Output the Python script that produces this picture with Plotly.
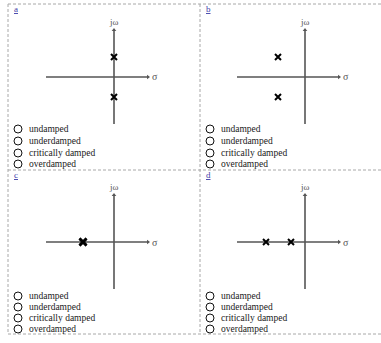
import plotly.graph_objects as go

W, H = 381, 343

# s-plane poles for each panel (real part, imaginary part)
poles_a_re = [0.0, 0.0]
poles_a_im = [1.0, -1.0]
poles_b_re = [-1.35, -1.35]
poles_b_im = [1.0, -1.0]
poles_c_re = [-1.55, -1.55]
poles_c_im = [0.0, 0.0]
poles_d_re = [-1.95, -0.7]
poles_d_im = [0.0, 0.0]

panel_labels = ["a", "b", "c", "d"]
choices = ["undamped", "underdamped", "critically damped", "overdamped"]

SIGMA_RANGE = [-3.4, 1.7]
JW_RANGE = [-2.35, 2.35]

AXIS_GREY = "#555555"
BORDER_GREY = "#a8a8a8"
SERIF = "Liberation Serif"


def px(x):
    return x / W


def py(y):
    return 1 - y / H


fig = go.Figure()

# pixel boxes of each s-plane (left, right, top, bottom)
boxes = [(46, 148, 30, 124), (237, 339, 30, 124), (46, 148, 195, 289), (237, 339, 195, 289)]
poles = [
    (poles_a_re, poles_a_im),
    (poles_b_re, poles_b_im),
    (poles_c_re, poles_c_im),
    (poles_d_re, poles_d_im),
]

layout_axes = {}
for i, ((l, r, t, b), (re, im)) in enumerate(zip(boxes, poles), start=1):
    xa = f"x{i}" if i > 1 else "x"
    ya = f"y{i}" if i > 1 else "y"
    xkey = f"xaxis{i}" if i > 1 else "xaxis"
    ykey = f"yaxis{i}" if i > 1 else "yaxis"
    layout_axes[xkey] = dict(domain=[px(l), px(r)], range=SIGMA_RANGE, visible=False,
                             anchor=ya, fixedrange=True)
    layout_axes[ykey] = dict(domain=[py(b), py(t)], range=JW_RANGE, visible=False,
                             anchor=xa, fixedrange=True)

    # real and imaginary axes
    fig.add_trace(go.Scatter(x=SIGMA_RANGE, y=[0, 0], mode="lines", xaxis=xa, yaxis=ya,
                             line=dict(color=AXIS_GREY, width=1.6), hoverinfo="skip",
                             showlegend=False, cliponaxis=False))
    fig.add_trace(go.Scatter(x=[0, 0], y=JW_RANGE, mode="lines", xaxis=xa, yaxis=ya,
                             line=dict(color=AXIS_GREY, width=1.6), hoverinfo="skip",
                             showlegend=False, cliponaxis=False))
    # arrow tips
    fig.add_trace(go.Scatter(x=[SIGMA_RANGE[1], 0], y=[0, JW_RANGE[1]], mode="markers",
                             xaxis=xa, yaxis=ya, hoverinfo="skip", showlegend=False,
                             cliponaxis=False,
                             marker=dict(symbol=["triangle-right", "triangle-up"], size=4,
                                         color=AXIS_GREY)))
    # poles (the repeated pole is drawn heavier)
    bold = i == 3
    fig.add_trace(go.Scatter(x=re, y=im, mode="markers", xaxis=xa, yaxis=ya,
                             showlegend=False, cliponaxis=False,
                             marker=dict(symbol="x-thin", size=7 if bold else 6,
                                         line=dict(color="black", width=2.6 if bold else 2))))

    # axis names
    fig.add_annotation(x=0, y=JW_RANGE[1], xref=xa, yref=ya, text="jω", showarrow=False,
                       yanchor="bottom", yshift=1, font=dict(family=SERIF, size=9, color=AXIS_GREY))
    fig.add_annotation(x=SIGMA_RANGE[1], y=0, xref=xa, yref=ya, text="σ", showarrow=False,
                       xanchor="left", xshift=2, font=dict(family=SERIF, size=10, color=AXIS_GREY))

fig.update_layout(**layout_axes)

# panel cells: dashed grid
shapes = []
dash = dict(color=BORDER_GREY, width=1, dash="3px,2px")
for (x0, y0, x1, y1) in [(8, 4, W, 4), (8, 170, W, 170), (8, 334, W, 334),
                         (8, 4, 8, 334), (200, 4, 200, 334)]:
    shapes.append(dict(type="line", xref="paper", yref="paper",
                       x0=px(x0), y0=py(y0), x1=px(x1), y1=py(y1), line=dash))

# panel letters and answer choices
cells = [(8, 4, [129, 141, 153, 164]), (200, 4, [129, 141, 153, 164]),
         (8, 170, [296, 307, 318, 329]), (200, 170, [296, 307, 318, 329])]
for label, (cl, ct, rows) in zip(panel_labels, cells):
    fig.add_annotation(x=px(cl + 4), y=py(ct + 5), xref="paper", yref="paper",
                       text=f"<u>{label}</u>", showarrow=False, xanchor="left", yanchor="middle",
                       font=dict(family=SERIF, size=9, color="#3c3ca8"))
    for text, yc in zip(choices, rows):
        shapes.append(dict(type="circle", xref="paper", yref="paper",
                           x0=px(cl + 6), x1=px(cl + 14), y0=py(yc - 4), y1=py(yc + 4),
                           line=dict(color="#111111", width=1)))
        fig.add_annotation(x=px(cl + 19), y=py(yc), xref="paper", yref="paper", text=text,
                           showarrow=False, xanchor="left", yanchor="middle",
                           font=dict(family=SERIF, size=9.5, color="#1a1a1a"))

fig.update_layout(width=W, height=H, margin=dict(l=0, r=0, t=0, b=0),
                  paper_bgcolor="white", plot_bgcolor="white", shapes=shapes)

fig.write_html("out.html", config={"displayModeBar": False})
